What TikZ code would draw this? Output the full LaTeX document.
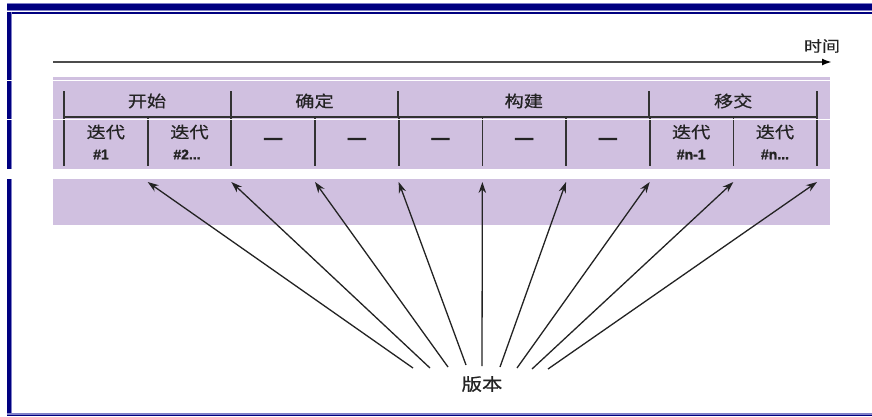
\documentclass[tikz,border=0pt]{standalone}
\usepackage{fontspec}
\setmainfont{Liberation Sans}
\newfontfamily\cjk[FakeStretch=1.2,FakeBold=0.6]{Noto Sans CJK SC}
\newfontfamily\heavy[FakeBold=2.5]{Liberation Sans Bold}
\newfontfamily\numfont[FakeBold=1.5]{Liberation Sans Bold}
\usetikzlibrary{arrows.meta}
\definecolor{band}{RGB}{208,192,224}
\definecolor{navyc}{RGB}{0,0,128}
\definecolor{navyl}{RGB}{128,128,200}
\definecolor{ink}{RGB}{35,35,35}
\definecolor{rule}{RGB}{50,50,50}
\tikzset{
  cjklab/.style={text=ink, inner sep=0pt, font=\cjk\fontsize{16}{16}\selectfont},
  numlab/.style={text=ink, inner sep=0pt, font=\numfont\fontsize{14}{14}\selectfont},
  dashlab/.style={text=ink, inner sep=0pt, font=\heavy\fontsize{18}{18}\selectfont},
  tabrule/.style={draw=rule, line width=1.7pt},
  relarrow/.style={draw=ink, line width=1.3pt, -{Stealth[length=11pt,width=7.5pt]}},
}
\begin{document}
\begin{tikzpicture}[x=1pt,y=-1pt]
\useasboundingbox (0,0) rectangle (872,416);
\fill[white] (0,0) rectangle (872,416);
% frame
\fill[navyl] (7,3) rectangle (872,11);
\fill[navyc] (7,4) rectangle (872,10);
\fill[navyc] (7,12) rectangle (872,13.5);
\fill[navyl] (7,12) rectangle (12,416);
\fill[navyc] (7,12) rectangle (10.5,416);
\fill[navyl] (7,412.5) rectangle (872,416);
\fill[navyc] (7,414.5) rectangle (872,416);
% time axis
\coordinate (tstart) at (53,62);
\coordinate (tend) at (832,62);
\draw[draw=gray!60!black, line width=2.6pt, -{Latex[length=10pt,width=7pt,black]}] (tstart) -- (tend);
\node[cjklab, font=\cjk\fontsize{15}{15}\selectfont] (time) at (822,46) {时间};
% bands
\fill[band] (53,77) rectangle (830,169);
\fill[band] (53,178.5) rectangle (830,225);
% table rules
\foreach \x in {64,230.7,398.3,649.3,817}
  \draw[tabrule] (\x,91) -- (\x,117);
\draw[tabrule] (64,117) -- (817,117);
\foreach \k in {0,...,9}
  \draw[tabrule] (64+83.67*\k,117) -- (64+83.67*\k,166);
% phase labels
\node[cjklab] (p1) at (147,101) {开始};
\node[cjklab] (p2) at (314.5,101) {确定};
\node[cjklab] (p3) at (523.8,101) {构建};
\node[cjklab] (p4) at (733.2,101) {移交};
% iteration labels
\node[cjklab] (i1) at (105.8,132) {迭代};
\node[numlab] (n1) at (101,154.5) {\#1};
\node[cjklab] (i2) at (189.5,132) {迭代};
\node[numlab] (n2) at (187,154.5) {\#2...};
\foreach \k in {2,...,6}
  \node[dashlab] (d\k) at (64+83.67*\k+41.8,141) {—};
\node[cjklab] (i8) at (691.2,132) {迭代};
\node[numlab] (n8) at (691.2,154.5) {\#n-1};
\node[cjklab] (i9) at (775,132) {迭代};
\node[numlab] (n9) at (775,154.5) {\#n...};
% stitching gaps
\fill[white] (0,79.6) rectangle (872,80.8);
\fill[white] (0,118.6) rectangle (872,119.8);
\fill[white] (0,169) rectangle (872,178.5);
% release node and arrows
\node[cjklab, font=\cjk\fontsize{17}{17}\selectfont] (rel) at (482,384) {版本};
\foreach \k/\sx/\sy in {1/413/368, 2/430/368, 3/448/367, 4/466/365, 5/482/366, 6/500/367, 7/517/368, 8/532/369, 9/548/369} {
  \coordinate (s\k) at (\sx,\sy);
  \coordinate (t\k) at (64+83.67*\k,182);
  \draw[relarrow] (s\k) -- (t\k);
}
\end{tikzpicture}
\end{document}
